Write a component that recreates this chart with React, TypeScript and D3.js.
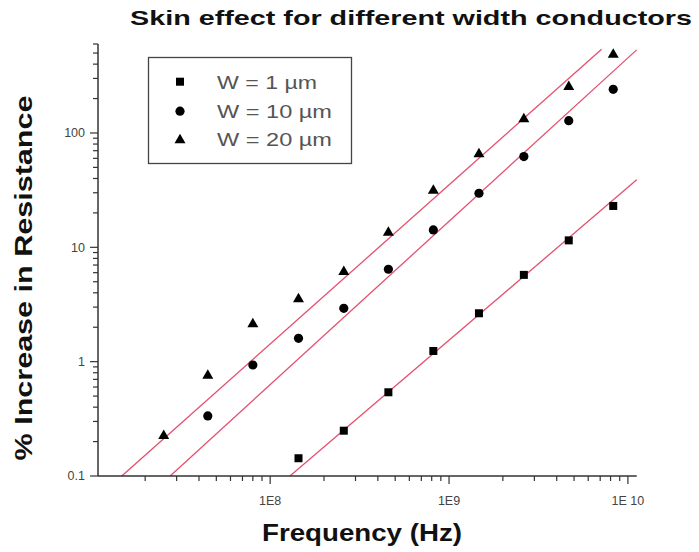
import React from "react";
import * as d3 from "d3";

const freqs = [2.54e7, 4.48e7, 8.0e7, 1.44e8, 2.58e8, 4.58e8, 8.17e8, 1.47e9, 2.62e9, 4.67e9, 8.28e9];
const w1Values = [0.143, 0.249, 0.54, 1.24, 2.65, 5.74, 11.5, 23.0];
const w1Start = 3;
const w10Values = [0.335, 0.935, 1.6, 2.93, 6.43, 14.2, 29.7, 62.2, 128, 241];
const w10Start = 1;
const w20Values = [0.228, 0.77, 2.17, 3.59, 6.2, 13.7, 31.8, 66.6, 134.7, 258, 492];
const w20Start = 0;

const fitW1: [number, number][] = [[1.29e8, 0.1], [1.12e10, 38.9]];
const fitW10: [number, number][] = [[2.76e7, 0.1], [1.12e10, 533]];
const fitW20: [number, number][] = [[1.48e7, 0.1], [7.13e9, 541]];

const legendLabels = ["W = 1 \u00b5m", "W = 10 \u00b5m", "W = 20 \u00b5m"];
const xMajor = [1e8, 1e9, 1e10];
const xMajorLabels = ["1E8", "1E9", "1E 10"];
const yMajor = [0.1, 1, 10, 100];
const yMajorLabels = ["0.1", "1", "10", "100"];

const title = "Skin effect for different width conductors";
const xTitle = "Frequency (Hz)";
const yTitle = "% Increase in Resistance";

const W = 699, H = 552;
const X0 = 98, X1 = 636.7, Y0 = 476, Y1 = 44;
const xDomain = [1.09e7, 1.12e10];
const yDomain = [0.1, 600];

function Marker({ shape, x, y }: { shape: string; x: number; y: number }) {
  if (shape === "square") return <rect x={x - 4} y={y - 4} width={8} height={8} fill="#000" />;
  if (shape === "circle") return <circle cx={x} cy={y} r={4.6} fill="#000" />;
  return <path d={`M${x},${y - 5.5}L${x + 5.5},${y + 4}L${x - 5.5},${y + 4}Z`} fill="#000" />;
}

export default function App() {
  const x = d3.scaleLog().domain(xDomain).range([X0, X1]);
  const y = d3.scaleLog().domain(yDomain).range([Y0, Y1]);

  const xMinor: number[] = [];
  for (let e = 7; e <= 10; e++) for (let m = 2; m <= 9; m++) {
    const v = m * Math.pow(10, e);
    if (v >= xDomain[0] && v <= xDomain[1]) xMinor.push(v);
  }
  const yMinor: number[] = [];
  for (let e = -1; e <= 2; e++) for (let m = 2; m <= 9; m++) {
    const v = m * Math.pow(10, e);
    if (v >= yDomain[0] && v <= yDomain[1] * 1.0001) yMinor.push(v);
  }

  const line = d3.line<[number, number]>().x(d => x(d[0])).y(d => y(d[1]));
  const series = [
    { shape: "square", values: w1Values, start: w1Start, fit: fitW1 },
    { shape: "circle", values: w10Values, start: w10Start, fit: fitW10 },
    { shape: "triangle", values: w20Values, start: w20Start, fit: fitW20 },
  ];
  const axisColor = "#333";
  const lineColor = "#e4506f";

  return (
    <div style={{ position: "absolute", left: 0, top: 0 }}>
      <svg width={W} height={H} style={{ display: "block", background: "#fff" }} fontFamily="Liberation Sans, Arial, sans-serif">
        <text x={411} y={25} textAnchor="middle" fontSize={21} fontWeight="bold" fill="#111" textLength={562} lengthAdjust="spacingAndGlyphs">{title}</text>

        {series.map((s, i) => (
          <g key={"fit" + i}>
            <path d={line(s.fit) || ""} stroke={lineColor} strokeWidth={1.3} fill="none" />
          </g>
        ))}
        {series.map((s, i) => (
          <g key={"pts" + i}>
            {s.values.map((v, j) => (
              <Marker key={j} shape={s.shape} x={x(freqs[s.start + j])} y={y(v)} />
            ))}
          </g>
        ))}

        {/* axes */}
        <line x1={X0} y1={Y0} x2={X1} y2={Y0} stroke={axisColor} strokeWidth={1.5} />
        <line x1={X0} y1={Y0} x2={X0} y2={Y1} stroke={axisColor} strokeWidth={1.5} />
        {xMajor.map((v, i) => (
          <g key={"xm" + i}>
            <line x1={x(v)} x2={x(v)} y1={Y0} y2={Y0 + 8} stroke={axisColor} strokeWidth={1.2} />
            <text x={x(v)} y={505} textAnchor="middle" fontSize={12.5} fill="#444">{xMajorLabels[i]}</text>
          </g>
        ))}
        {xMinor.map((v, i) => (
          <line key={"xn" + i} x1={x(v)} x2={x(v)} y1={Y0} y2={Y0 + 5} stroke={axisColor} strokeWidth={1.2} />
        ))}
        {yMajor.map((v, i) => (
          <g key={"ym" + i}>
            <line x1={X0} x2={X0 - 8} y1={y(v)} y2={y(v)} stroke={axisColor} strokeWidth={1.2} />
            <text x={85} y={y(v)} dy="0.35em" textAnchor="end" fontSize={12.5} fill="#444">{yMajorLabels[i]}</text>
          </g>
        ))}
        {yMinor.map((v, i) => (
          <line key={"yn" + i} x1={X0} x2={X0 - 5} y1={y(v)} y2={y(v)} stroke={axisColor} strokeWidth={1.2} />
        ))}

        <text x={362} y={541} textAnchor="middle" fontSize={24} fontWeight="bold" fill="#111" textLength={200} lengthAdjust="spacingAndGlyphs">{xTitle}</text>
        <text transform={`translate(32,${278}) rotate(-90)`} textAnchor="middle" fontSize={24} fontWeight="bold" fill="#111" textLength={365} lengthAdjust="spacingAndGlyphs">{yTitle}</text>

        {/* legend */}
        <rect x={148.5} y={57.5} width={203} height={106} fill="#fff" stroke="#444" strokeWidth={1.3} />
        {legendLabels.map((t, i) => {
          const ly = [81.7, 111.2, 139.3][i];
          return (
            <g key={"lg" + i}>
              <Marker shape={series[i].shape} x={180} y={ly} />
              <text x={217} y={ly} dy="0.36em" fontSize={19} fill="#555" textLength={[100, 115, 115][i]} lengthAdjust="spacingAndGlyphs">{t}</text>
            </g>
          );
        })}
      </svg>
    </div>
  );
}
